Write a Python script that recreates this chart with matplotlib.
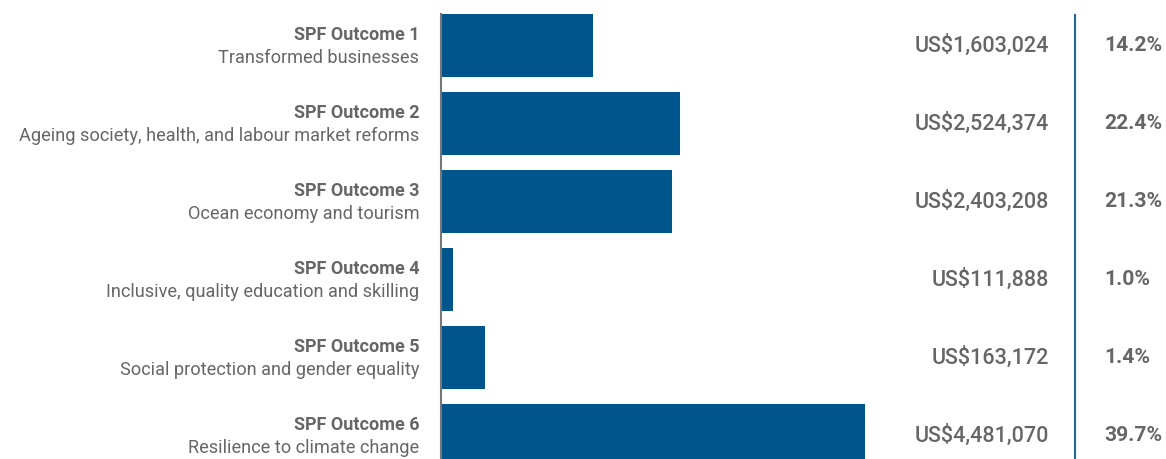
import matplotlib.pyplot as plt
from matplotlib.transforms import blended_transform_factory

outcomes = ["SPF Outcome 1", "SPF Outcome 2", "SPF Outcome 3",
            "SPF Outcome 4", "SPF Outcome 5", "SPF Outcome 6"]
descriptions = ["Transformed businesses",
                "Ageing society, health, and labour market reforms",
                "Ocean economy and tourism",
                "Inclusive, quality education and skilling",
                "Social protection and gender equality",
                "Resilience to climate change"]
amounts = [1603024, 2524374, 2403208, 111888, 163172, 4481070]
shares = [14.2, 22.4, 21.3, 1.0, 1.4, 39.7]
# bar lengths as drawn in the picture (bar 5 is drawn longer than its label)
bar_lengths = [1603024, 2524374, 2440000, 125000, 465000, 4481070]

bar_color = "#00558c"
text_color = "#666666"
plt.rcParams['font.family'] = ['Roboto', 'DejaVu Sans']

fig = plt.figure(figsize=(11.66, 4.59), dpi=100)
ax = fig.add_axes([441 / 1166, 0, 1 - 441 / 1166, 1 - 14 / 459])

y = list(range(len(amounts)))
ax.barh(y, bar_lengths, height=0.81, color=bar_color)
ax.set_xlim(0, 7.66e6)
ax.set_ylim(5.30, -0.404)

for s in ["top", "right", "bottom"]:
    ax.spines[s].set_visible(False)
ax.spines["left"].set_color("#777777")
ax.spines["left"].set_linewidth(1.5)
ax.set_xticks([])
ax.set_yticks([])

tr = blended_transform_factory(ax.transAxes, ax.transData)
ax.plot([0.8745, 0.8745], [-0.404, 5.30], transform=tr, color="#2a6496", lw=1.5)

for i in y:
    ax.text(-0.030, i - 0.14, outcomes[i], transform=tr, ha="right", va="center",
            fontsize=13, fontweight="bold", color=text_color, clip_on=False)
    ax.text(-0.030, i + 0.165, descriptions[i], transform=tr, ha="right", va="center",
            fontsize=13.1, color=text_color, clip_on=False)
    ax.text(0.8386, i, f"US${amounts[i]:,}", transform=tr, ha="right", va="center",
            fontsize=15.5, fontweight="medium", color=text_color)
    ax.text(0.9145, i, f"{shares[i]:.1f}%", transform=tr, ha="left", va="center",
            fontsize=15.2, fontweight="bold", color=text_color)

fig.savefig("out.png", dpi=100)
